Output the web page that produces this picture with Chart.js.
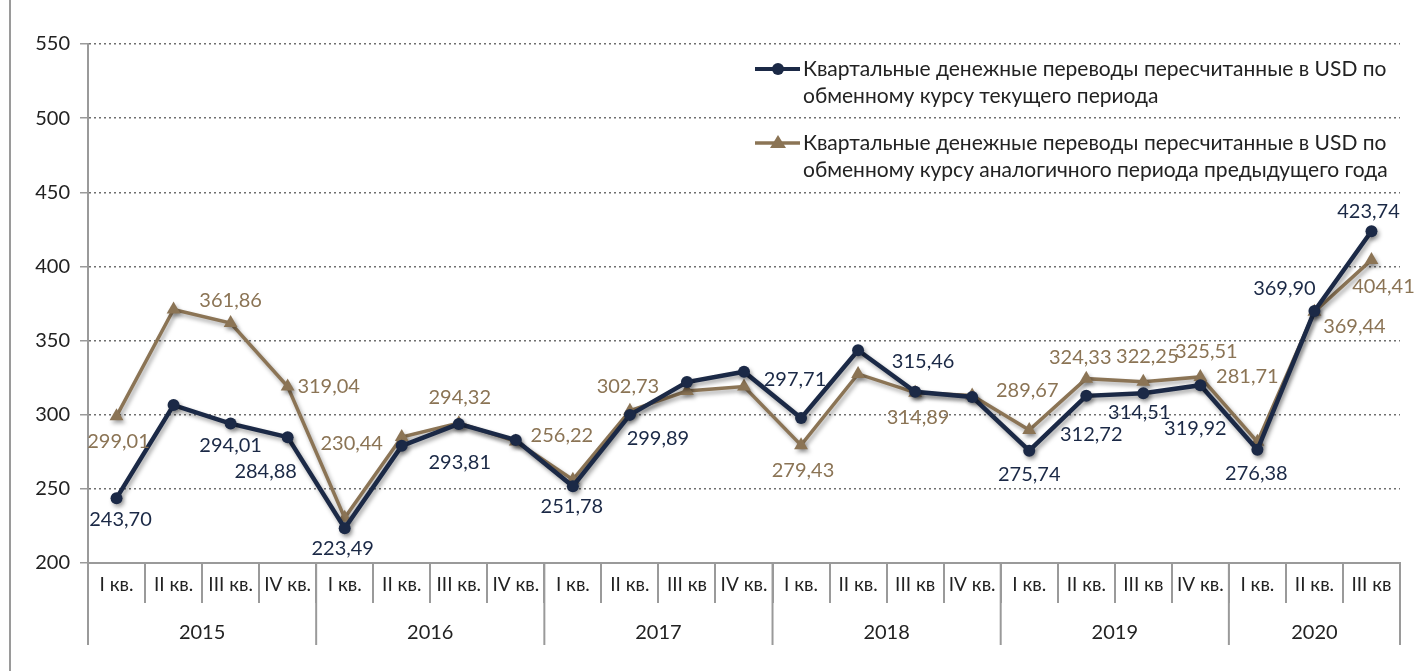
<!DOCTYPE html>
<html>
<head>
<meta charset="utf-8">
<script src="https://cdn.jsdelivr.net/npm/chart.js@4"></script>
<style>
  html, body { margin: 0; padding: 0; background: #fff; }
  .wrap { position: relative; width: 1416px; height: 671px; }
  .frame { position: absolute; left: 9px; top: 0; width: 2px; height: 671px; background: #9a9a9a; }
</style>
</head>
<body>
<div class="wrap">
  <div class="frame"></div>
  <canvas id="remitChart" width="1416" height="671"></canvas>
</div>
<script>
const quarters = [
  'I кв.', 'II кв.', 'III кв.', 'IV кв.',
  'I кв.', 'II кв.', 'III кв.', 'IV кв.',
  'I кв.', 'II кв.', 'III кв', 'IV кв.',
  'I кв.', 'II кв.', 'III кв', 'IV кв.',
  'I кв.', 'II кв.', 'III кв', 'IV кв.',
  'I кв.', 'II кв.', 'III кв'
];
const years = ['2015', '2016', '2017', '2018', '2019', '2020'];
const quartersPerYear = [4, 4, 4, 4, 4, 3];

const currentRate = [
  243.70, 306.5, 294.01, 284.88,
  223.49, 279, 293.81, 283,
  251.78, 299.89, 322, 329,
  297.71, 343.5, 315.46, 312,
  275.74, 312.72, 314.51, 319.92,
  276.38, 369.90, 423.74
];
const prevYearRate = [
  299.01, 371, 361.86, 319.04,
  230.44, 285, 294.32, 282,
  256.22, 302.73, 316, 319,
  279.43, 327.5, 314.89, 313,
  289.67, 324.33, 322.25, 325.51,
  281.71, 369.44, 404.41
];
const seriesNames = [
  ['Квартальные денежные переводы пересчитанные в USD по', 'обменному курсу текущего периода'],
  ['Квартальные денежные переводы пересчитанные в USD по', 'обменному курсу аналогичного периода предыдущего года']
];

// where each value label sits relative to its point (null = no label)
const currentLabelPos = [
  [4, 21], null, [0, 22], [-22, 34],
  [-2, 20], null, [1, 39], null,
  [-1, 20], [28, 24], null, null,
  [-6, -39], null, [8, -30], null,
  [0, 24], [5, 39], [-4, 19], [-5, 43],
  [-1, 24], [-30, -23], [-3, -20]
];
const prevLabelPos = [
  [2, 25], null, [0, -22], [41, 0],
  [7, -74], null, [1, -26], null,
  [-11, -44], [-2, -24], null, null,
  [2, 25], null, [3, 25], null,
  [-2, -39], [-6, -21], [4, -25], [6, -25],
  [-10, -65], [40, 15], [12, 27]
];

const DARK = '#1b2946';
const BROWN = '#8b7455';
const FONT = 'Lato, "Open Sans", "Noto Sans", sans-serif';

const fmt = v => v.toFixed(2).replace('.', ',');

const shadowPlugin = {
  id: 'lineShadow',
  beforeDatasetsDraw(chart) {
    const ctx = chart.ctx;
    ctx.save();
    ctx.shadowColor = 'rgba(0,0,0,0.35)';
    ctx.shadowBlur = 4;
    ctx.shadowOffsetX = 2;
    ctx.shadowOffsetY = 3;
  },
  afterDatasetsDraw(chart) {
    chart.ctx.restore();
  }
};

const valueLabels = {
  id: 'valueLabels',
  afterDatasetsDraw(chart) {
    const ctx = chart.ctx;
    const positions = [currentLabelPos, prevLabelPos];
    ctx.save();
    ctx.font = '20px ' + FONT;
    ctx.textAlign = 'center';
    ctx.textBaseline = 'middle';
    chart.data.datasets.forEach((ds, di) => {
      const meta = chart.getDatasetMeta(di);
      ctx.fillStyle = di === 0 ? DARK : BROWN;
      meta.data.forEach((pt, i) => {
        const off = positions[di][i];
        if (!off) return;
        ctx.fillText(fmt(ds.data[i]), pt.x + off[0], pt.y + off[1]);
      });
    });
    ctx.restore();
  }
};

const yearAxis = {
  id: 'yearAxis',
  afterDraw(chart) {
    const ctx = chart.ctx;
    const x = chart.scales.x;
    const half = (x.getPixelForValue(1) - x.getPixelForValue(0)) / 2;
    const top = x.top;
    ctx.save();
    ctx.strokeStyle = '#9a9a9a';
    ctx.lineWidth = 2;
    ctx.fillStyle = '#222';
    ctx.font = '20px ' + FONT;
    ctx.textAlign = 'center';
    ctx.textBaseline = 'middle';
    let start = 0;
    const edges = [x.getPixelForValue(0) - half];
    years.forEach((y, k) => {
      const end = start + quartersPerYear[k] - 1;
      const left = x.getPixelForValue(start) - half;
      const right = x.getPixelForValue(end) + half;
      edges.push(right);
      ctx.fillText(y, (left + right) / 2, top + 70);
      start = end + 1;
    });
    edges.forEach(px => {
      ctx.beginPath();
      ctx.moveTo(px, top);
      ctx.lineTo(px, top + 82);
      ctx.stroke();
    });
    ctx.restore();
  }
};

const legendBox = {
  id: 'legendBox',
  afterDraw(chart) {
    const ctx = chart.ctx;
    ctx.save();
    ctx.font = '21px ' + FONT;
    ctx.textAlign = 'left';
    ctx.textBaseline = 'middle';
    const rows = [69, 143];
    rows.forEach((y, k) => {
      const col = k === 0 ? DARK : BROWN;
      ctx.strokeStyle = col;
      ctx.fillStyle = col;
      ctx.lineWidth = k === 0 ? 4 : 3.5;
      ctx.beginPath();
      ctx.moveTo(755, y);
      ctx.lineTo(800, y);
      ctx.stroke();
      ctx.beginPath();
      if (k === 0) {
        ctx.arc(778, y, 6, 0, Math.PI * 2);
      } else {
        ctx.moveTo(778, y - 8);
        ctx.lineTo(786, y + 5);
        ctx.lineTo(770, y + 5);
        ctx.closePath();
      }
      ctx.fill();
      ctx.fillStyle = '#222';
      seriesNames[k].forEach((line, j) => {
        ctx.fillText(line, 803, y + j * 27);
      });
    });
    ctx.restore();
  }
};

new Chart(document.getElementById('remitChart'), {
  type: 'line',
  data: {
    labels: quarters,
    datasets: [
      {
        label: seriesNames[0].join(' '),
        data: currentRate,
        borderColor: DARK,
        backgroundColor: DARK,
        borderWidth: 4.5,
        pointStyle: 'circle',
        pointRadius: 6,
        pointBackgroundColor: DARK,
        pointBorderWidth: 0,
        tension: 0
      },
      {
        label: seriesNames[1].join(' '),
        data: prevYearRate,
        borderColor: BROWN,
        backgroundColor: BROWN,
        borderWidth: 3.5,
        pointStyle: 'triangle',
        pointRadius: 8,
        pointBackgroundColor: BROWN,
        pointBorderWidth: 0,
        tension: 0
      }
    ]
  },
  options: {
    responsive: false,
    animation: false,
    layout: { padding: { top: 44, right: 16, left: 0, bottom: 0 } },
    plugins: {
      legend: { display: false },
      tooltip: { enabled: false }
    },
    scales: {
      x: {
        offset: true,
        grid: {
          offset: true,
          drawOnChartArea: false,
          tickLength: 40,
          color: '#9a9a9a',
          lineWidth: 2
        },
        border: { display: true, color: '#9a9a9a', width: 2 },
        ticks: {
          color: '#222',
          font: { size: 19, family: FONT },
          padding: -30,
          maxRotation: 0,
          autoSkip: false
        },
        afterFit(s) { s.height = 108; }
      },
      y: {
        min: 200,
        max: 550,
        ticks: {
          stepSize: 50,
          color: '#222',
          font: { size: 20, family: FONT },
          padding: 10
        },
        grid: {
          color: '#6f6f6f',
          lineWidth: 1.5,
          tickLength: 8,
          tickColor: '#9a9a9a'
        },
        border: { display: true, color: '#9a9a9a', width: 2, dash: [2, 3] },
        afterFit(s) { s.width = 88; }
      }
    }
  },
  plugins: [shadowPlugin, valueLabels, yearAxis, legendBox]
});
</script>
</body>
</html>
